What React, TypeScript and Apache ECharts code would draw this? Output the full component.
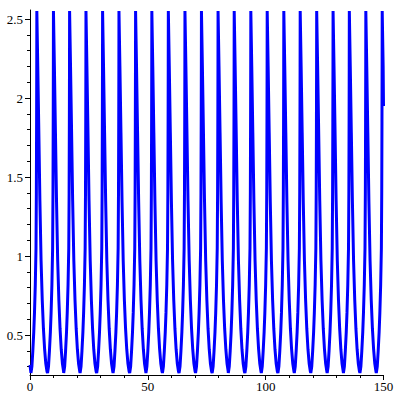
import React, { useEffect, useRef } from "react";
import * as echarts from "echarts";

// Times of each peak
const peakTimes = [2.9, 9.95, 16.8, 23.75, 30.8, 37.75, 44.8, 51.7, 58.7, 65.75, 72.75, 79.8, 86.65, 93.7, 100.65, 107.7, 114.65, 121.65, 128.6, 135.5, 142.5, 149.45];
const peakValue = 2.55;
// Falling part of a cycle: offset after a peak, value
const fallOffsets = [0.4, 0.85, 1.3, 1.8, 2.3, 2.8, 3.3, 3.8, 4.3];
const fallValues = [2.2, 1.78, 1.35, 0.97, 0.72, 0.54, 0.41, 0.32, 0.27];
// Rising part of a cycle: offset before the next peak, value
const riseOffsets = [-2.5, -2.1, -1.7, -1.3, -1.0, -0.65, -0.35, -0.2, -0.1, -0.04];
const riseValues = [0.26, 0.3, 0.4, 0.52, 0.64, 0.82, 1.05, 1.4, 1.85, 2.2];
const startPoint = [0, 0.31];
const endPoint = [150, 1.95];

const yLabels = [0.5, 1, 1.5, 2, 2.5];
const yMinorTicks = [0.3, 0.4, 0.6, 0.7, 0.8, 0.9, 1.1, 1.2, 1.3, 1.4, 1.6, 1.7, 1.8, 1.9, 2.1, 2.2, 2.3, 2.4];

function buildData(): number[][] {
  const pts: number[][] = [startPoint];
  peakTimes.forEach((p) => {
    riseOffsets.forEach((o, i) => {
      if (p + o > 0) pts.push([p + o, riseValues[i]]);
    });
    pts.push([p, peakValue]);
    fallOffsets.forEach((o, i) => {
      if (p + o < endPoint[0]) pts.push([p + o, fallValues[i]]);
    });
  });
  pts.push(endPoint);
  return pts;
}

export default function App() {
  const ref = useRef<HTMLDivElement>(null);
  useEffect(() => {
    if (!ref.current) return;
    const chart = echarts.init(ref.current, undefined, { renderer: "svg" });
    const font = "Liberation Serif, serif";
    const black = "#000";
    chart.setOption({
      animation: false,
      backgroundColor: "#fff",
      textStyle: { fontFamily: font },
      grid: { left: 30, right: 16.5, top: 10, bottom: 25 },
      xAxis: {
        type: "value",
        min: 0,
        max: 150,
        interval: 50,
        axisLine: { show: true, onZero: false, lineStyle: { color: black, width: 1 } },
        axisTick: { show: true, length: 5, lineStyle: { color: black, width: 1 } },
        minorTick: { show: true, splitNumber: 5, length: 3, lineStyle: { color: black, width: 1 } },
        splitLine: { show: false },
        axisLabel: { color: black, fontFamily: font, fontSize: 13, margin: 5 },
      },
      yAxis: [
        {
          type: "value",
          min: 0.247,
          max: 2.557,
          axisLine: { show: true, onZero: false, lineStyle: { color: black, width: 1 } },
          axisTick: { show: true, length: 5, customValues: yLabels, lineStyle: { color: black, width: 1 } },
          splitLine: { show: false },
          axisLabel: { color: black, fontFamily: font, fontSize: 13, margin: 7, customValues: yLabels },
        },
        {
          type: "value",
          position: "left",
          min: 0.247,
          max: 2.557,
          axisLine: { show: false, onZero: false },
          axisTick: { show: true, length: 3, customValues: yMinorTicks, lineStyle: { color: black, width: 1 } },
          splitLine: { show: false },
          axisLabel: { show: false },
        },
      ],
      series: [
        {
          type: "line",
          data: buildData(),
          showSymbol: false,
          clip: true,
          lineStyle: { color: "#0000ff", width: 3 },
        },
      ],
    });
    return () => chart.dispose();
  }, []);
  return (
    <div
      ref={ref}
      style={{ position: "fixed", left: 0, top: 0, width: 400, height: 400, background: "#fff" }}
    />
  );
}
